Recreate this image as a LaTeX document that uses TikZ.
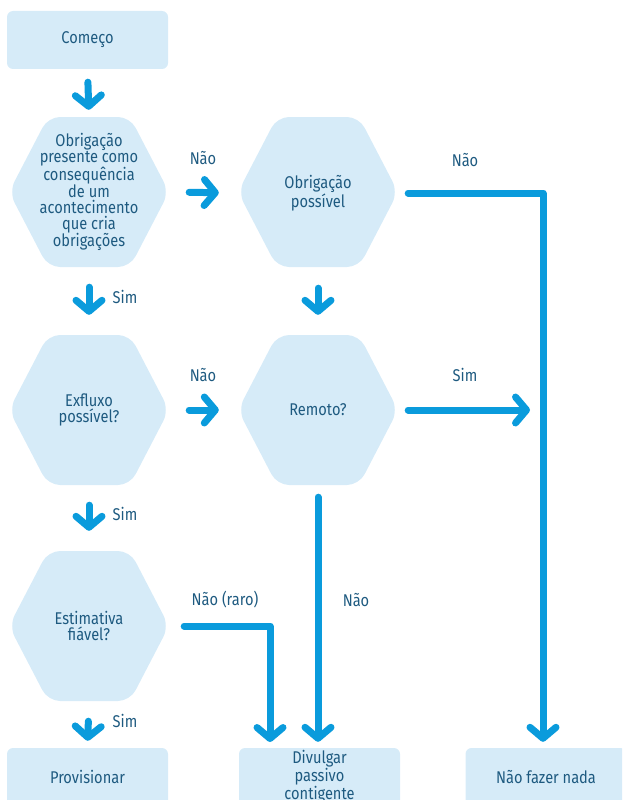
\documentclass[tikz,border=0pt]{standalone}
\usepackage{fontspec}
\setmainfont{Fira Sans}[FakeStretch=0.86]
\usetikzlibrary{arrows.meta,calc}
\definecolor{boxfill}{HTML}{D6EBF8}
\definecolor{arrowblue}{HTML}{0A9BDC}
\definecolor{txtblue}{HTML}{1E5A80}
\tikzset{
  lbl/.style={text=txtblue, font=\fontsize{17}{15.8}\selectfont, inner sep=0pt},
  box/.style={lbl, fill=boxfill, rounded corners=6pt, minimum width=161pt, minimum height=58pt, align=center},
  hexbox/.style={lbl, minimum width=160pt, minimum height=150pt, align=center},
  arr/.style={draw=arrowblue, line width=7pt, line cap=round, line join=round,
    -{Straight Barb[length=11pt,width=26pt,round]}},
}
\newcommand\hexshape[1]{\fill[boxfill, rounded corners=12pt] ($#1+(0,-75)$) -- ++(41,0) -- ++(39,75) -- ++(-39,75) -- ++(-82,0) -- ++(-39,-75) -- ++(39,-75) -- cycle;}
\begin{document}
\begin{tikzpicture}[x=1pt,y=-1pt]
\useasboundingbox (0,0) rectangle (622,800);
\clip (0,0) rectangle (622,800);
% hexagon backgrounds
\hexshape{(89,192)}
\hexshape{(318,192)}
\hexshape{(89,410)}
\hexshape{(318,410)}
\hexshape{(89,626)}
% boxes
\node[box] (start) at (87.5,40) {Começo};
\node[box] (prov) at (87.5,777) {Provisionar};
\node[box] (div) at (319.5,777) {Divulgar\\passivo\\contigente};
\node[box] (nada) at (546,777) {Não fazer nada};
% hexagon nodes
\node[hexbox] (h1) at (89,192) {Obrigação\\presente como\\consequência\\de um\\acontecimento\\que cria\\obrigações};
\node[hexbox] (h2) at (318,193) {Obrigação\\possível};
\node[hexbox] (h3) at (89,410) {Exfluxo\\possível?};
\node[hexbox] (h4) at (318,410) {Remoto?};
\node[hexbox] (h5) at (89,626) {Estimativa\\fiável?};
% helper coordinates
\coordinate (vline) at (543,410);
\coordinate (rdrop) at (270,748);
% connectors
\draw[arr, shorten <=13pt, shorten >=7pt] (start.south) -- (h1.north);
\draw[arr, shorten <=20pt, shorten >=20pt] (h1.south) -- (h3.north);
\draw[arr, shorten <=20pt, shorten >=20pt] (h3.south) -- (h5.north);
\draw[arr, shorten <=20pt, shorten >=7pt] (h5.south) -- (prov.north);
\draw[arr, shorten <=20pt, shorten >=20pt] (h2.south) -- (h4.north);
\draw[arr, shorten <=20pt, shorten >=19pt] (h1.east) -- (h2.west);
\draw[arr, shorten <=20pt, shorten >=19pt] (h3.east) -- (h4.west);
\draw[arr, shorten <=10pt, shorten >=6pt] (h2.east) -| (vline |- nada.north);
\draw[arr, shorten <=10pt, shorten >=13pt] (h4.east) -- (vline);
\draw[arr, shorten <=12pt, shorten >=6pt] (h4.south) -- (h4.south |- div.north);
\draw[arr, shorten <=15pt, shorten >=6pt] (h5.east) -| (rdrop);
% labels
\node[lbl] (l1) at (203,158) {Não};
\node[lbl] (l2) at (465,160) {Não};
\node[lbl] (l3) at (125,297) {Sim};
\node[lbl] (l4) at (203,375) {Não};
\node[lbl] (l5) at (465,375) {Sim};
\node[lbl] (l6) at (125,514) {Sim};
\node[lbl] (l7) at (225,600) {Não (raro)};
\node[lbl] (l8) at (356,600) {Não};
\node[lbl] (l9) at (125,721) {Sim};
\end{tikzpicture}
\end{document}
